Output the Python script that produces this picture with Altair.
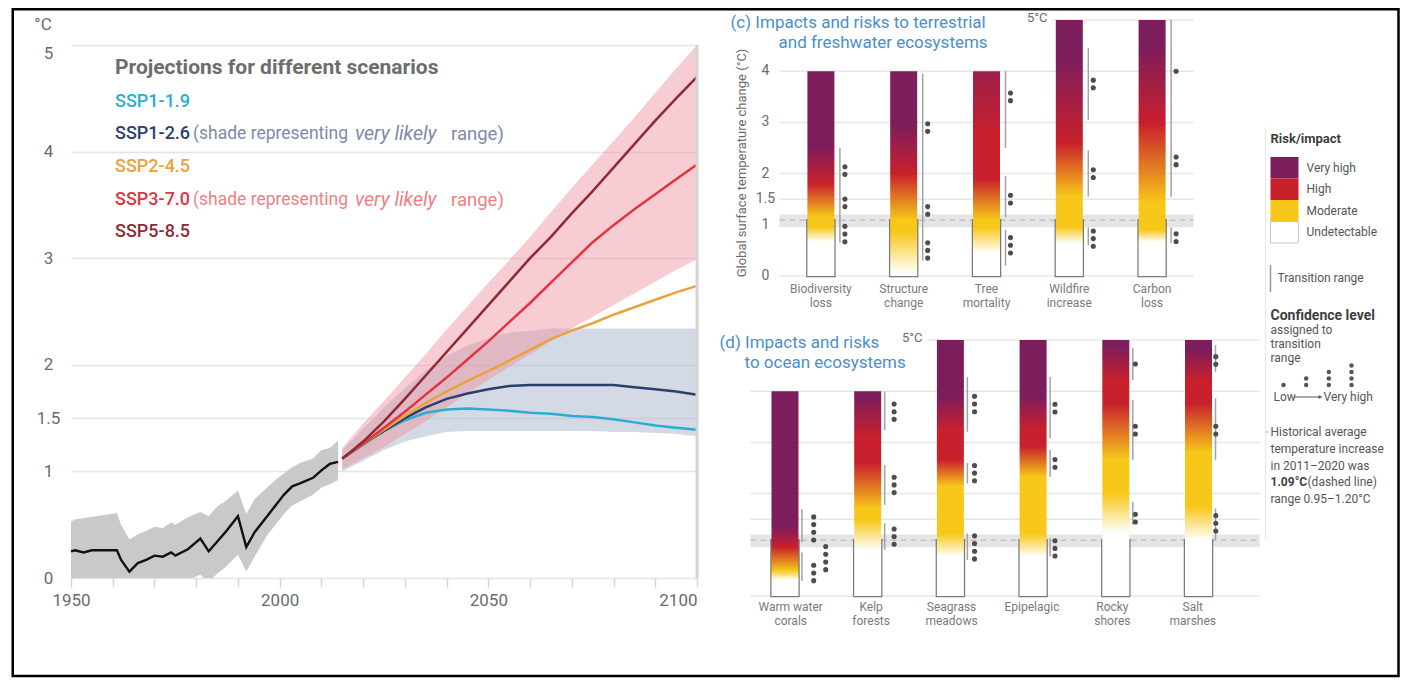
import altair as alt
import pandas as pd

FONT = "Roboto"

# ------------------------------------------------------------------
# (left) global surface temperature change, historical + SSP scenarios
# ------------------------------------------------------------------
hist_years = [1950, 1951, 1953, 1955, 1958, 1961, 1962, 1964, 1966, 1968, 1970,
              1972, 1974, 1975, 1978, 1981, 1983, 1985, 1987, 1990, 1992, 1994,
              1997, 1999, 2001, 2003, 2005, 2008, 2010, 2012, 2014]
hist_mean = [0.25, 0.26, 0.24, 0.26, 0.26, 0.26, 0.17, 0.06, 0.14, 0.17, 0.21,
             0.20, 0.24, 0.21, 0.27, 0.37, 0.25, 0.34, 0.43, 0.58, 0.29, 0.43,
             0.58, 0.68, 0.78, 0.86, 0.89, 0.94, 1.01, 1.07, 1.09]
hist_low = [-0.03, -0.02, -0.04, -0.02, -0.03, -0.02, -0.10, -0.20, -0.12, -0.10, -0.06,
            -0.08, -0.04, -0.06, -0.02, 0.03, -0.04, 0.04, 0.10, 0.22, 0.06, 0.20,
            0.40, 0.50, 0.60, 0.68, 0.72, 0.78, 0.85, 0.88, 0.92]
hist_high = [0.53, 0.55, 0.56, 0.575, 0.59, 0.61, 0.50, 0.36, 0.41, 0.44, 0.48,
             0.47, 0.52, 0.50, 0.57, 0.62, 0.58, 0.67, 0.72, 0.82, 0.60, 0.74,
             0.85, 0.92, 0.98, 1.04, 1.08, 1.12, 1.20, 1.22, 1.29]

proj_years = [2015, 2020, 2025, 2030, 2035, 2040, 2045, 2050, 2055, 2060,
              2065, 2070, 2075, 2080, 2085, 2090, 2095, 2100]
ssp119 = [1.12, 1.25, 1.38, 1.48, 1.55, 1.58, 1.59, 1.58, 1.57, 1.55, 1.54, 1.52, 1.51, 1.49, 1.46, 1.43, 1.41, 1.39]
ssp126 = [1.12, 1.26, 1.38, 1.50, 1.60, 1.68, 1.73, 1.77, 1.80, 1.81, 1.81, 1.81, 1.81, 1.81, 1.79, 1.77, 1.75, 1.72]
ssp245 = [1.12, 1.26, 1.39, 1.52, 1.64, 1.75, 1.85, 1.94, 2.04, 2.14, 2.24, 2.32, 2.39, 2.47, 2.54, 2.61, 2.68, 2.74]
ssp370 = [1.12, 1.26, 1.41, 1.56, 1.72, 1.88, 2.05, 2.22, 2.40, 2.58, 2.77, 2.96, 3.15, 3.31, 3.46, 3.60, 3.74, 3.88]
ssp585 = [1.12, 1.28, 1.47, 1.68, 1.90, 2.12, 2.34, 2.56, 2.78, 3.00, 3.20, 3.42, 3.63, 3.85, 4.07, 4.29, 4.50, 4.70]
ssp126_low = [1.00, 1.10, 1.20, 1.28, 1.33, 1.37, 1.38, 1.38, 1.38, 1.38, 1.38, 1.38, 1.38, 1.37, 1.37, 1.36, 1.35, 1.33]
ssp126_high = [1.20, 1.40, 1.60, 1.78, 1.95, 2.08, 2.18, 2.25, 2.30, 2.32, 2.34, 2.34, 2.34, 2.34, 2.34, 2.34, 2.34, 2.34]
ssp370_low = [1.02, 1.12, 1.23, 1.35, 1.47, 1.60, 1.73, 1.86, 1.98, 2.10, 2.22, 2.34, 2.45, 2.56, 2.67, 2.78, 2.89, 2.99]
ssp370_high = [1.22, 1.45, 1.66, 1.88, 2.10, 2.33, 2.55, 2.77, 2.98, 3.20, 3.43, 3.66, 3.88, 4.10, 4.32, 4.55, 4.78, 5.00]

scen_names = ["SSP1-1.9", "SSP1-2.6", "SSP2-4.5", "SSP3-7.0", "SSP5-8.5"]
scen_colors = ["#27aed5", "#2a3f6e", "#e8a33c", "#e4323f", "#8f2a34"]
scen_light = ["#27aed5", "#7d8aa8", "#e8a33c", "#ef7f86", "#8f2a34"]

y_ticks_left = [0, 1, 1.5, 2, 3, 4, 5]
x_ticks_left = list(range(1950, 2101, 10))

# ------------------------------------------------------------------
# (c) terrestrial and freshwater ecosystems / (d) ocean ecosystems
# ------------------------------------------------------------------
hist_avg = 1.09
hist_lo, hist_hi = 0.95, 1.20

cats_c = ["Biodiversity loss", "Structure change", "Tree mortality", "Wildfire increase", "Carbon loss"]
tops_c = [4, 4, 4, 5, 5]
stops_c = [
    [(0, "W"), (0.67, "W"), (0.96, "Y"), (1.15, "Y"), (1.81, "R"), (2.55, "P"), (4, "P")],
    [(0, "W"), (0.05, "W"), (0.86, "Y"), (1.10, "Y"), (2.00, "R"), (2.95, "P"), (4, "P")],
    [(0, "W"), (0.45, "W"), (0.95, "Y"), (1.10, "Y"), (1.90, "R"), (2.70, "R"), (4, "RP")],
    [(0, "W"), (0.64, "W"), (0.96, "Y"), (1.55, "Y"), (2.60, "R"), (4.30, "P"), (5, "P")],
    [(0, "W"), (0.67, "W"), (0.90, "Y"), (1.42, "Y"), (2.98, "R"), (4.50, "P"), (5, "P")],
]
tr_c_cat = ["Biodiversity loss"] * 3 + ["Structure change"] * 3 + ["Tree mortality"] * 3 + \
           ["Wildfire increase"] * 3 + ["Carbon loss"] * 3
tr_c_lo = [0.65, 1.30, 2.00, 0.30, 1.20, 2.00, 0.20, 1.15, 2.50, 0.60, 1.55, 3.05, 0.65, 1.55, 3.00]
tr_c_hi = [1.30, 2.00, 2.50, 1.20, 2.00, 3.95, 0.90, 1.95, 4.00, 0.95, 2.45, 4.45, 0.95, 3.00, 5.00]
tr_c_n = [3, 2, 2, 3, 2, 2, 3, 2, 2, 3, 2, 2, 2, 2, 1]
tr_c_mid = [0.82, 1.43, 2.06, 0.50, 1.28, 2.90, 0.60, 1.50, 3.50, 0.73, 2.00, 3.75, 0.75, 2.25, 4.00]
tr_c_lane = [0] * 15

cats_d = ["Warm water corals", "Kelp forests", "Seagrass meadows", "Epipelagic", "Rocky shores", "Salt marshes"]
tops_d = [4, 4, 5, 5, 5, 5]
stops_d = [
    [(0, "W"), (0.31, "W"), (0.50, "Y"), (0.96, "R"), (1.35, "P"), (4, "P")],
    [(0, "W"), (0.90, "W"), (1.48, "Y"), (1.70, "Y"), (2.60, "R"), (3.10, "R"), (3.90, "P"), (4, "P")],
    [(0, "W"), (0.77, "W"), (1.22, "Y"), (2.14, "Y"), (2.66, "R"), (3.24, "R"), (3.90, "P"), (5, "P")],
    [(0, "W"), (0.77, "W"), (1.22, "Y"), (2.33, "Y"), (2.92, "R"), (3.24, "R"), (3.90, "P"), (5, "P")],
    [(0, "W"), (1.22, "W"), (2.00, "Y"), (2.66, "Y"), (3.76, "R"), (4.22, "R"), (4.90, "P"), (5, "P")],
    [(0, "W"), (1.09, "W"), (1.74, "Y"), (2.80, "Y"), (3.76, "R"), (4.22, "R"), (4.80, "P"), (5, "P")],
]
tr_d_cat = ["Warm water corals"] * 3 + ["Kelp forests"] * 3 + ["Seagrass meadows"] * 3 + \
           ["Epipelagic"] * 3 + ["Rocky shores"] * 3 + ["Salt marshes"] * 3
tr_d_lo = [0.30, 0.74, 1.05, 0.90, 1.78, 3.24, 0.70, 2.20, 3.21, 0.77, 2.33, 3.08, 1.39, 2.66, 4.22, 1.09, 2.66, 4.38]
tr_d_hi = [0.85, 0.74, 1.70, 1.42, 2.56, 3.99, 1.22, 2.60, 4.28, 1.13, 2.85, 4.28, 1.84, 3.83, 4.84, 1.71, 3.86, 4.90]
tr_d_n = [3, 4, 4, 3, 3, 3, 4, 3, 3, 3, 2, 2, 2, 2, 1, 3, 2, 2]
tr_d_mid = [0.45, 0.74, 1.32, 1.16, 2.17, 3.60, 0.95, 2.40, 3.75, 0.93, 2.59, 3.67, 1.52, 3.24, 4.53, 1.42, 3.24, 4.60]
tr_d_lane = [0, 1, 0] + [0] * 15

risk_levels = ["Very high", "High", "Moderate", "Undetectable"]
risk_colors = ["#7c1d5c", "#c8202c", "#f7c81a", "#ffffff"]
COL = {"W": "#ffffff", "Y": "#f7c81a", "R": "#c8202c", "P": "#7c1d5c", "RP": "#9e1f48"}
conf_levels = [1, 2, 3, 4]
dot_step = 0.15

grid_c = [0, 1, 1.5, 2, 3, 4]
grid_d = [0, 1, 1.5, 2, 3, 4]
ytick_c = [0, 1, 1.5, 2, 3, 4]

ONE = alt.Data(values=[{}])
GRAY_TXT = "#6b6b6b"
TITLE_BLUE = "#4b8fc9"


def label(text, x, y, size=12, color="#555555", weight="normal", style="normal",
          align="left", baseline="middle", angle=0):
    return alt.Chart(ONE).mark_text(
        text=text, fontSize=size, color=color, fontWeight=weight, fontStyle=style,
        align=align, baseline=baseline, angle=angle
    ).encode(x=alt.value(x), y=alt.value(y))


def spacer(top):
    # invisible layout guide so that both panels reserve the same space above their plots
    return alt.Chart(ONE).mark_rule(opacity=0).encode(x=alt.value(0), y=alt.value(top), y2=alt.value(top + 1))


# ------------------------------ LEFT ------------------------------
W_L, H_L = 626, 558
L_MAX = 5 + 25 / 106.6   # plot area extends 25px above the 5 degC line

x_axis_left = alt.Axis(
    values=x_ticks_left, labelExpr="datum.value % 50 == 0 ? '' + datum.value : ''",
    title=None, grid=False, domain=False, ticks=True, tickSize=9, tickColor="#d6d6d6",
    tickWidth=1.5, labelFontSize=17, labelColor=GRAY_TXT, labelPadding=5, labelFlush=False,
    labelOverlap=False,
    labelAlign={"condition": {"test": "datum.value >= 2100", "value": "right"}, "value": "center"},
)
y_axis_left = alt.Axis(
    values=y_ticks_left, labelExpr="'' + datum.value", title=None, grid=True,
    gridColor="#e4e4e4", gridWidth=1.5, domain=False, ticks=False, tickSize=0,
    labelFontSize=17, labelColor=GRAY_TXT, labelAlign="center", labelPadding=23,
    labelBaseline={"condition": {"test": "datum.value == 5", "value": "top"}, "value": "middle"},
    minExtent=63, maxExtent=63, labelOverlap=False,
)


def xL(f):
    return alt.X(f"{f}:Q", scale=alt.Scale(domain=[1950, 2100], nice=False, zero=False), axis=x_axis_left)


def yL(f):
    return alt.Y(f"{f}:Q", scale=alt.Scale(domain=[0, L_MAX], nice=False, zero=False), axis=y_axis_left)


hist_df = pd.DataFrame({"year": hist_years, "mean": hist_mean, "lo": hist_low, "hi": hist_high})
proj_df = pd.DataFrame({"year": proj_years, "lo126": ssp126_low, "hi126": ssp126_high,
                        "lo370": ssp370_low, "hi370": ssp370_high})
long_df = pd.concat([
    pd.DataFrame({"year": proj_years, "value": vals, "scenario": name})
    for name, vals in zip(scen_names, [ssp119, ssp126, ssp245, ssp370, ssp585])
], ignore_index=True)

left_layers = [
    spacer(-12),
    alt.Chart(hist_df).mark_area(color="#c9c9c9", clip=True).encode(x=xL("year"), y=yL("lo"), y2=alt.Y2("hi")),
    alt.Chart(proj_df).mark_area(color="#b7c1d3", opacity=0.6, clip=True).encode(
        x=xL("year"), y=yL("lo126"), y2=alt.Y2("hi126")),
    alt.Chart(proj_df).mark_area(color="#ee8f9b", opacity=0.45, clip=True).encode(
        x=xL("year"), y=yL("lo370"), y2=alt.Y2("hi370")),
    alt.Chart(hist_df).mark_line(color="#111111", strokeWidth=2.4).encode(x=xL("year"), y=yL("mean")),
    alt.Chart(long_df).mark_line(strokeWidth=2.5).encode(
        x=xL("year"), y=yL("value"),
        color=alt.Color("scenario:N", scale=alt.Scale(domain=scen_names, range=scen_colors), legend=None),
        order=alt.Order("scenario:N")),
    alt.Chart(pd.DataFrame({"year": [2100], "lo": [0], "hi": [5]})).mark_rule(
        color="#d4d4d4", strokeWidth=3).encode(x=xL("year"), y=yL("lo"), y2=alt.Y2("hi")),
    label("°C", -28, 5, size=17, color=GRAY_TXT, align="center"),
    label("Projections for different scenarios", 44, 48, size=21, color="#6d6d6d", weight="bold"),
]
leg_y = [82, 114, 147, 180, 212]
for i, name in enumerate(scen_names):
    left_layers.append(label(name, 44, leg_y[i], size=18, color=scen_colors[i], weight=500))
    if name in ("SSP1-2.6", "SSP3-7.0"):
        left_layers.append(label("(shade representing", 122, leg_y[i], size=17.5, color=scen_light[i]))
        left_layers.append(label("very likely", 284, leg_y[i], size=19.5, color=scen_light[i], style="italic"))
        left_layers.append(label("range)", 380, leg_y[i], size=18.5, color=scen_light[i]))

left = alt.layer(*left_layers).properties(width=W_L, height=H_L)

# ------------------------------ RIGHT (c), (d) and legend ------------------------------
# one plot area: origin at the left of panel (d), top of panel (c)
W_R, H_R = 650, 576
SPLIT = ("lastindexof(datum.cat, ' ') > 0 ? [substring(datum.cat, 0, lastindexof(datum.cat, ' ')), "
         "substring(datum.cat, lastindexof(datum.cat, ' ') + 1)] : datum.cat")


def dot_frame(cats, mids, ns, lanes):
    rows = []
    for c, m, n, l in zip(cats, mids, ns, lanes):
        for i in range(n):
            rows.append({"cat": c, "v": m + (i - (n - 1) / 2) * dot_step, "lane": l})
    return pd.DataFrame(rows)


def ember_layers(cats, tops, stops, tr_cat, tr_lo, tr_hi, tr_n, tr_mid, tr_lane,
                 x_range, y_range, pad_outer, grid_vals, grid_l, grid_r, five_x,
                 line_off, dot_off, label_y):
    def X(f):
        return alt.X(f"{f}:N", scale=alt.Scale(domain=cats, range=x_range, paddingInner=0.5,
                                               paddingOuter=pad_outer), axis=None)

    def Y(f):
        return alt.Y(f"{f}:Q", scale=alt.Scale(domain=[0, 5], range=y_range, nice=False, zero=False), axis=None)

    layers = [
        alt.Chart(pd.DataFrame({"v": grid_vals})).mark_rule(color="#e6e6e6", strokeWidth=1.5).encode(
            y=Y("v"), x=alt.value(grid_l), x2=alt.value(grid_r)),
        alt.Chart(pd.DataFrame({"v": [5]})).mark_rule(color="#e6e6e6", strokeWidth=1.5).encode(
            y=Y("v"), x=alt.value(five_x), x2=alt.value(grid_r)),
        alt.Chart(pd.DataFrame({"lo": [hist_lo], "hi": [hist_hi]})).mark_rect(color="#e5e5e5").encode(
            y=Y("lo"), y2=alt.Y2("hi"), x=alt.value(grid_l), x2=alt.value(grid_r)),
        alt.Chart(pd.DataFrame({"v": [hist_avg]})).mark_rule(
            color="#c4c4c4", strokeWidth=1.5, strokeDash=[6, 4]).encode(
            y=Y("v"), x=alt.value(grid_l), x2=alt.value(grid_r)),
        alt.Chart(pd.DataFrame({"cat": cats, "v": [hist_avg] * len(cats)})).mark_bar(
            size=27, fill="white", stroke="#7a7a7a", strokeWidth=2.5).encode(
            x=X("cat"), y=Y("v"), y2=alt.Y2(datum=0)),
    ]
    for cat, top, st in zip(cats, tops, stops):
        grad = alt.Gradient(
            gradient="linear", x1=0, x2=0, y1=1, y2=0,
            stops=[alt.GradientStop(color=COL[k], offset=round(t / top, 4)) for t, k in st])
        layers.append(alt.Chart(pd.DataFrame({"cat": [cat], "top": [top]})).mark_bar(
            size=27, color=grad).encode(x=X("cat"), y=Y("top"), y2=alt.Y2(datum=0)))
    tr = pd.DataFrame({"cat": tr_cat, "lo": tr_lo, "hi": tr_hi, "lane": tr_lane})
    layers.append(alt.Chart(tr).mark_rule(xOffset=line_off, color="#a3a3a3", strokeWidth=1.5).encode(
        x=X("cat"), y=Y("lo"), y2=alt.Y2("hi")))
    dots = dot_frame(tr_cat, tr_mid, tr_n, tr_lane)
    layers.append(alt.Chart(dots[dots.lane == 0]).mark_circle(
        xOffset=dot_off, size=26, color="#4d4d4d", opacity=1).encode(x=X("cat"), y=Y("v")))
    if (dots.lane == 1).any():
        layers.append(alt.Chart(dots[dots.lane == 1]).mark_circle(
            xOffset=dot_off + 12, size=26, color="#4d4d4d", opacity=1).encode(x=X("cat"), y=Y("v")))
    layers.append(alt.Chart(pd.DataFrame({"cat": cats})).transform_calculate(lbl=SPLIT).mark_text(
        baseline="top", fontSize=12, lineHeight=14, color="#7a7a7a").encode(
        x=X("cat"), y=alt.value(label_y), text="lbl:N"))
    return layers, Y


c_layers, Yc = ember_layers(
    cats_c, tops_c, stops_c, tr_c_cat, tr_c_lo, tr_c_hi, tr_c_n, tr_c_mid, tr_c_lane,
    x_range=[29, 443], y_range=[256, 0], pad_outer=0.25, grid_vals=grid_c, grid_l=29, grid_r=443,
    five_x=301, line_off=19, dot_off=24, label_y=264)
d_layers, Yd = ember_layers(
    cats_d, tops_d, stops_d, tr_d_cat, tr_d_lo, tr_d_hi, tr_d_n, tr_d_mid, tr_d_lane,
    x_range=[0, 482.5], y_range=[576, 320], pad_outer=0.167, grid_vals=grid_d, grid_l=0, grid_r=509,
    five_x=177, line_off=17, dot_off=23, label_y=582)

c_extra = [
    alt.Chart(pd.DataFrame({"v": ytick_c})).transform_calculate(lbl="'' + datum.v").mark_text(
        align="center", fontSize=14, color=GRAY_TXT).encode(y=Yc("v"), x=alt.value(15), text="lbl:N"),
    label("5°C", 297, -2, size=13, color=GRAY_TXT, align="right"),
    label("(c) Impacts and risks to terrestrial", -20, 3, size=17, color=TITLE_BLUE),
    label("and freshwater ecosystems", 28, 23, size=17, color=TITLE_BLUE),
    label("Global surface temperature change (°C)", -9, 143, size=13, color=GRAY_TXT,
          align="center", angle=270),
]
d_extra = [
    label("5°C", 172, 317.5, size=13, color=GRAY_TXT, align="right"),
    label("(d) Impacts and risks", -31, 323, size=17, color=TITLE_BLUE),
    label("to ocean ecosystems", -6, 343, size=17, color=TITLE_BLUE),
]

# legend (right column)
LX = 520
lvl_scale = alt.Scale(domain=risk_levels, range=[137, 223], paddingInner=0, paddingOuter=0)
conf_df = pd.DataFrame([{"level": l, "k": k} for l in conf_levels for k in range(l)])
legend_layers = [
    alt.Chart(ONE).mark_rule(color="#e8e8e8", strokeWidth=1).encode(
        x=alt.value(LX - 5), y=alt.value(107), y2=alt.value(520)),
    label("Risk/impact", LX, 119, size=13, color="#404040", weight="bold"),
    alt.Chart(pd.DataFrame({"level": risk_levels})).mark_rect(strokeWidth=1).encode(
        y=alt.Y("level:N", scale=lvl_scale, axis=None),
        x=alt.value(LX), x2=alt.value(LX + 28),
        fill=alt.Fill("level:N", scale=alt.Scale(domain=risk_levels, range=risk_colors), legend=None),
        stroke=alt.condition("datum.level == 'Undetectable'", alt.value("#c4c4c4"), alt.value("transparent"))),
    alt.Chart(pd.DataFrame({"level": risk_levels})).mark_text(
        align="left", fontSize=12, color="#555555").encode(
        y=alt.Y("level:N", scale=lvl_scale, axis=None, bandPosition=0.5),
        x=alt.value(LX + 36), text="level:N"),
    alt.Chart(ONE).mark_rule(color="#9a9a9a", strokeWidth=1.5).encode(
        x=alt.value(LX), y=alt.value(245), y2=alt.value(272)),
    label("Transition range", LX + 7, 258, size=12),
    label("Confidence level", LX, 296, size=14, color="#404040", weight="bold"),
    label("assigned to", LX, 310, size=12),
    label("transition", LX, 324, size=12),
    label("range", LX, 338, size=12),
    alt.Chart(conf_df).mark_circle(size=20, color="#555555", opacity=1).encode(
        x=alt.X("level:O", scale=alt.Scale(type="point", domain=conf_levels, range=[LX + 13, LX + 81],
                                            padding=0), axis=None),
        y=alt.Y("k:Q", scale=alt.Scale(domain=[0, 3], range=[365, 345.5]), axis=None)),
    label("Low", LX + 3, 377, size=12),
    alt.Chart(ONE).mark_rule(color="#555555", strokeWidth=1).encode(
        x=alt.value(LX + 23), x2=alt.value(LX + 49), y=alt.value(377)),
    alt.Chart(ONE).mark_point(shape="triangle-right", size=18, filled=True, color="#555555", opacity=1).encode(
        x=alt.value(LX + 50), y=alt.value(377)),
    label("Very high", LX + 53, 377, size=12),
    alt.Chart(ONE).mark_rule(color="#aaaaaa", strokeWidth=1).encode(
        x=alt.value(LX - 5), x2=alt.value(LX - 2), y=alt.value(412)),
    label("Historical average", LX, 412, size=12),
    label("temperature increase", LX, 429, size=12),
    label("in 2011–2020 was", LX, 446, size=12),
    label(f"{hist_avg:.2f}°C", LX, 462, size=12, color="#404040", weight="bold"),
    label("(dashed line)", LX + 37, 462, size=12),
    label(f"range {hist_lo:.2f}–{hist_hi:.2f}°C", LX, 479, size=12),
]

# black picture frame around the whole figure (drawn from the right panel's coordinates)
R_X0, R_Y0 = 747, 20          # page position of the right panel's origin
FRAME_SW = 2.5
frame = alt.Chart(ONE).mark_rect(fillOpacity=0, stroke="#000000", strokeWidth=FRAME_SW).encode(
    x=alt.value(8 + FRAME_SW / 2 - R_X0), x2=alt.value(1395 - R_X0),
    y=alt.value(8 + FRAME_SW / 2 - R_Y0), y2=alt.value(676 - R_Y0))

right = alt.layer(spacer(-12), *c_layers, *c_extra, *d_layers, *d_extra, *legend_layers, frame).resolve_scale(
    x="independent", y="independent").properties(width=W_R, height=H_R)

# left panel spans page x 8..698.5; the right panel's bounds start at page x 8 (the frame)
chart = alt.hconcat(left, right, spacing=8 - 698.5, padding=0).configure(font=FONT).configure_view(strokeWidth=0)

chart.save("out.html", embed_options={"renderer": "svg", "actions": False})
